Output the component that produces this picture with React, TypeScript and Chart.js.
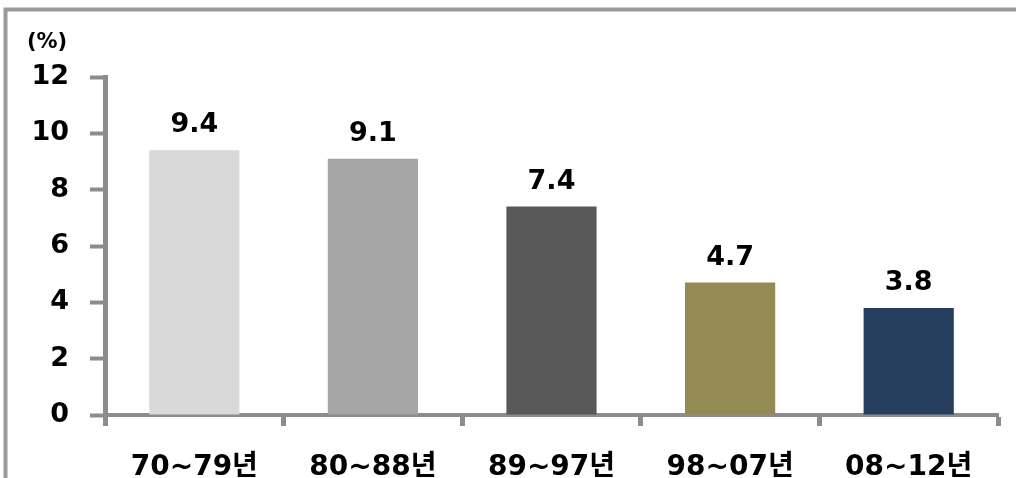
import React, { useEffect, useRef } from "react";
import { Chart, registerables } from "chart.js";

Chart.register(...registerables);

// Average growth rate by period (%)
const periods = ["70~79년", "80~88년", "89~97년", "98~07년", "08~12년"];
const growthRates = [9.4, 9.1, 7.4, 4.7, 3.8];
const barColors = ["#d9d9d9", "#a6a6a6", "#595959", "#948a54", "#263f5f"];
const yTicks = [0, 2, 4, 6, 8, 10, 12];
const unitLabel = "(%)";

const FONT_FAMILY = "'DejaVu Sans', 'Noto Sans CJK KR', sans-serif";
const AXIS_COLOR = "#8c8c8c";

// Outer frame of the figure
const framePlugin = {
  id: "frame",
  beforeDraw(chart: any) {
    const ctx = chart.ctx;
    ctx.save();
    ctx.strokeStyle = "#9a9a9a";
    ctx.lineWidth = 4;
    ctx.strokeRect(5.5, 9.5, chart.width + 40, chart.height + 40);
    ctx.restore();
  },
};

// Unit caption above the y axis and value labels above each bar
const labelPlugin = {
  id: "valueLabels",
  afterDatasetsDraw(chart: any) {
    const ctx = chart.ctx;
    ctx.save();
    ctx.fillStyle = "#000";
    ctx.textAlign = "center";
    ctx.textBaseline = "alphabetic";
    ctx.font = `bold 21px ${FONT_FAMILY}`;
    ctx.fillText(unitLabel, 47, 48);
    ctx.font = `bold 27px ${FONT_FAMILY}`;
    const meta = chart.getDatasetMeta(0);
    meta.data.forEach((bar: any, i: number) => {
      const v = chart.data.datasets[0].data[i] as number;
      ctx.fillText(v.toFixed(1), bar.x, bar.y - 18);
    });
    ctx.restore();
  },
};

export default function App() {
  const canvasRef = useRef<HTMLCanvasElement | null>(null);

  useEffect(() => {
    const canvas = canvasRef.current;
    if (!canvas) return;
    const chart = new Chart(canvas, {
      type: "bar",
      data: {
        labels: periods,
        datasets: [
          {
            data: growthRates,
            backgroundColor: barColors,
            borderWidth: 0,
            categoryPercentage: 1,
            barPercentage: 0.505,
          },
        ],
      },
      options: {
        animation: false,
        responsive: false,
        devicePixelRatio: 1,
        layout: { padding: { top: 77, right: 18, bottom: 0, left: 0 } },
        plugins: {
          legend: { display: false },
          tooltip: { enabled: false },
          title: { display: false },
        },
        scales: {
          x: {
            grid: {
              offset: true,
              drawOnChartArea: false,
              drawTicks: true,
              tickLength: 11,
              tickColor: AXIS_COLOR,
              tickWidth: 5,
            },
            border: { display: true, color: AXIS_COLOR, width: 4 },
            ticks: {
              color: "#000",
              padding: 25,
              font: { family: FONT_FAMILY, size: 28, weight: "bold" },
            },
            afterFit: (scale: any) => {
              scale.height = 63;
            },
          },
          y: {
            min: 0,
            max: 12,
            afterBuildTicks: (scale: any) => {
              scale.ticks = yTicks.map((v) => ({ value: v }));
            },
            grid: {
              drawOnChartArea: false,
              drawTicks: true,
              tickLength: 15,
              tickColor: AXIS_COLOR,
              tickWidth: 4,
            },
            border: { display: true, color: AXIS_COLOR, width: 5 },
            ticks: {
              color: "#000",
              padding: 21,
              font: { family: FONT_FAMILY, size: 27, weight: "bold" },
            },
            afterFit: (scale: any) => {
              scale.width = 105;
            },
          },
        },
      },
      plugins: [framePlugin, labelPlugin],
    });
    return () => chart.destroy();
  }, []);

  return (
    <div
      style={{
        position: "fixed",
        left: 0,
        top: 0,
        width: 1016,
        height: 478,
        background: "#fff",
        overflow: "hidden",
      }}
    >
      <canvas ref={canvasRef} width={1016} height={478} />
    </div>
  );
}
